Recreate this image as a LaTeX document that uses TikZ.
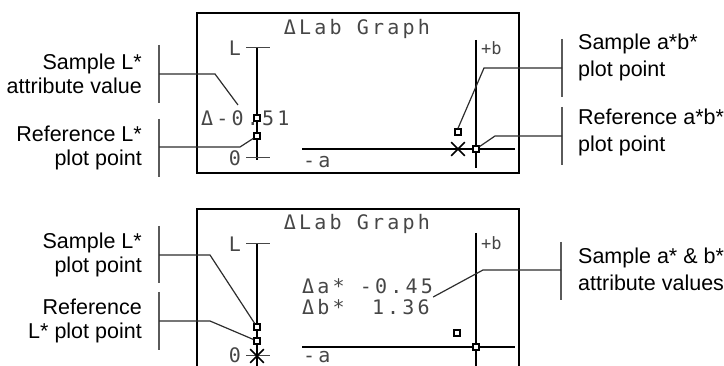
\documentclass[tikz,border=0pt]{standalone}
\usepackage{fontspec}
\setmainfont{Liberation Sans}
\newfontfamily\lcdfont[LetterSpace=16]{DejaVu Sans Mono}
\newfontfamily\lcdtight{DejaVu Sans Mono}
\usetikzlibrary{shapes.misc}
\definecolor{lcdgray}{RGB}{70,70,70}
\definecolor{leadgray}{RGB}{45,45,45}
\definecolor{bargray}{RGB}{90,90,90}
\tikzset{
  panel/.style={draw=black, line width=2.4pt},
  axis/.style={draw=black, line width=1.8pt},
  tickmark/.style={draw=lcdgray, line width=1pt},
  plotpt/.style={rectangle, draw=black, fill=white, line width=1.3pt,
                 minimum size=6pt, inner sep=0pt},
  refx/.style={cross out, draw=black, line width=1.6pt, minimum size=12pt, inner sep=0pt},
  lcd/.style={font=\lcdfont\fontsize{20}{21}\selectfont, text=lcdgray, inner sep=0pt, align=left},
  lcdsmall/.style={font=\lcdtight\fontsize{17}{18}\selectfont, text=lcdgray, inner sep=0pt},
  callout/.style={font=\fontsize{21.5}{24.5}\selectfont, align=right, inner sep=0pt},
  callright/.style={font=\fontsize{21.5}{27}\selectfont, align=left, inner sep=0pt},
  bar/.style={draw=bargray, line width=1.6pt},
  leader/.style={draw=leadgray, line width=1.2pt},
}

\begin{document}
\begin{tikzpicture}[x=1pt, y=-1pt]
  \useasboundingbox (0,0) rectangle (724,366);
  \clip (0,0) rectangle (724,366);

  % upper screen
  \draw[panel] (197,13) rectangle (519,173);
  \node[lcd] (titleA) at (357,29) {ΔLab Graph};
  \draw[axis] (257,48) -- (257,160);
  \draw[tickmark] (246,48) -- (270,48);
  \draw[tickmark] (246,158) -- (270,158);
  \node[lcd] (topLA) at (235,48) {L};
  \node[lcd] (zeroA) at (235,158) {0};
  \node[lcd, anchor=west] (valL) at (201,118) {Δ-0.51};
  \node[plotpt] (sL) at (257,118) {};
  \node[plotpt] (rL) at (257,136) {};

  \draw[axis] (476,40) -- (476,168);
  \draw[axis] (302,149) -- (515,149);
  \node[lcdsmall, anchor=west] (plusbA) at (481,48) {+b};
  \node[lcd, anchor=west] (minaA) at (303,162) {-a};
  \node[refx] (xA) at (458,149) {};
  \node[plotpt] (rAB) at (476,149) {};
  \node[plotpt] (sAB) at (458,132) {};

  \coordinate (tipL) at (238,105);
  \coordinate (barSL) at (159,74);
  \coordinate (barRL) at (159,147);
  \coordinate (barSAB) at (562,68);
  \coordinate (barRAB) at (562,136);
  \draw[bar] (159,45) -- (159,103);
  \draw[bar] (159,119) -- (159,177);
  \draw[bar] (562,39) -- (562,97);
  \draw[bar] (562,107) -- (562,165);

  \node[callout, anchor=east] (lblSL) at (142,74) {Sample L*\\attribute value};
  \node[callout, anchor=east] (lblRL) at (142,148) {Reference L*\\plot point};
  \node[callright, anchor=west] (lblSAB) at (578,57) {Sample a*b*\\plot point};
  \node[callright, anchor=west] (lblRAB) at (578,132) {Reference a*b*\\plot point};

  \draw[leader] (barSL) -- (215,74) -- (tipL);
  \draw[leader] (barRL) -- (240,147) -- (rL);
  \draw[leader] (sAB.north) -- (484,68) -- (barSAB);
  \draw[leader] (rAB) -- (495,136) -- (barRAB);

  % lower screen
  \draw[panel] (197,380) -- (197,209) -- (519,209) -- (519,380);
  \node[lcd] (titleB) at (357,224) {ΔLab Graph};
  \draw[axis] (257,244) -- (257,370);
  \draw[tickmark] (246,244) -- (270,244);
  \draw[tickmark] (246,356) -- (270,356);
  \node[lcd] (topLB) at (235,244) {L};
  \node[lcd] (zeroB) at (235,355) {0};
  \node[plotpt] (sL2) at (257,327) {};
  \node[plotpt] (rL2) at (257,341) {};
  \node[refx] (xB) at (257,356) {};

  \draw[axis] (476,233) -- (476,370);
  \draw[axis] (302,347) -- (515,347);
  \node[lcdsmall, anchor=west] (plusbB) at (481,243) {+b};
  \node[lcd, anchor=west] (minaB) at (303,357) {-a};
  \node[plotpt] (rAB2) at (476,347) {};
  \node[plotpt] (sAB2) at (457,333) {};
  \node[lcd, anchor=west] (valAB) at (302,297) {Δa* -0.45\\Δb* \phantom{-}1.36};

  \coordinate (barSL2) at (159,255);
  \coordinate (barRL2) at (159,321);
  \coordinate (barVAB) at (561,270);
  \draw[bar] (159,226) -- (159,283);
  \draw[bar] (159,292) -- (159,350);
  \draw[bar] (561,242) -- (561,300);

  \node[callout, anchor=east] (lblSL2) at (142,255) {Sample L*\\plot point};
  \node[callout, anchor=east] (lblRL2) at (142,321) {Reference\\L* plot point};
  \node[callright, anchor=west] (lblVAB) at (578,269) {Sample a* \& b*\\attribute values};

  \draw[leader] (barSL2) -- (210,255) -- (sL2);
  \draw[leader] (barRL2) -- (210,321) -- (rL2);
  \draw[leader] (valAB.east) -- (483,270) -- (barVAB);
\end{tikzpicture}
\end{document}
